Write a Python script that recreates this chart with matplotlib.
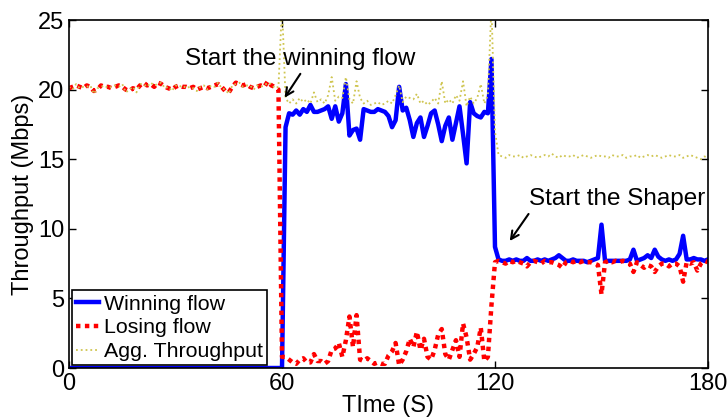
import matplotlib
matplotlib.use('Agg')
import matplotlib.pyplot as plt
import numpy as np

plt.rcParams['font.family'] = ['Liberation Sans', 'DejaVu Sans']

# time axis, one sample per second
time_s = np.arange(0, 181)

# winning flow (Mbps)
winning = [0.0] * 61 + [
    17.3, 18.3, 18.2, 18.5, 18.2, 18.6, 18.4, 18.9, 18.4, 18.4,
    18.5, 18.6, 18.8, 17.9, 18.8, 17.7, 18.3, 20.4, 16.7, 17.1,
    17.2, 16.4, 18.6, 18.5, 18.4, 18.4, 18.6, 18.5, 18.4, 18.1,
    17.3, 17.8, 20.2, 18.5, 18.7, 17.8, 16.6, 17.6, 18.0, 16.6,
    17.4, 18.3, 18.5, 17.5, 16.3, 17.4, 18.0, 16.4, 17.6, 18.8,
    16.8, 14.7, 19.1, 18.3, 18.1, 18.0, 18.4, 18.3, 22.2, 8.7,
    7.8, 7.7, 7.7, 7.8, 7.7, 7.8, 7.7, 7.7, 7.9, 7.7,
    7.7, 7.8, 7.7, 7.8, 7.7, 7.8, 7.9, 8.1, 7.9, 7.7,
    7.7, 7.8, 7.7, 7.7, 7.7, 7.6, 7.7, 7.8, 7.9, 10.3,
    7.7, 7.7, 7.7, 7.7, 7.7, 7.7, 7.7, 7.8, 8.5, 7.7,
    7.8, 7.9, 8.1, 7.9, 8.5, 8.0, 7.8, 7.7, 7.8, 7.7,
    7.8, 8.2, 9.5, 7.8, 7.8, 7.9, 7.8, 7.8, 7.7, 7.8,
]

# losing flow (Mbps)
losing = [
    20.1, 20.2, 20.3, 20.2, 20.1, 20.3, 20.2, 19.9, 20.0, 20.3,
    20.2, 20.2, 20.1, 20.2, 20.3, 20.2, 20.0, 19.9, 20.1, 20.0,
    20.3, 20.5, 20.3, 20.4, 20.2, 20.5, 20.4, 20.2, 20.1, 20.0,
    20.2, 20.3, 20.2, 20.2, 20.1, 20.2, 20.0, 20.1, 20.2, 20.1,
    20.2, 20.3, 20.4, 20.2, 19.9, 19.8, 20.2, 20.5, 20.4, 20.3,
    20.4, 20.2, 20.1, 20.2, 20.3, 20.2, 20.6, 20.3, 20.2, 20.0,
    0.8, 0.8, 0.6, 0.4, 0.3, 0.6, 0.7, 0.4, 0.4, 1.0,
    0.5, 0.5, 0.3, 0.5, 1.3, 1.4, 1.8, 0.8, 2.0, 3.7,
    1.5, 3.8, 0.6, 0.5, 0.7, 0.5, 0.3, 0.4, 0.3, 0.3,
    0.9, 1.2, 1.8, 0.2, 0.6, 1.2, 2.1, 1.5, 2.6, 1.3,
    2.1, 0.8, 0.6, 1.3, 2.4, 2.8, 1.0, 0.6, 1.3, 2.0,
    0.8, 3.2, 2.2, 0.6, 1.0, 1.5, 2.9, 0.5, 0.8, 4.5,
    7.6, 7.7, 7.6, 7.5, 7.7, 7.6, 7.7, 7.6, 7.5, 7.3,
    7.6, 7.7, 7.6, 7.5, 7.7, 7.6, 7.6, 7.5, 7.4, 7.2,
    7.6, 7.7, 7.6, 7.7, 7.6, 7.7, 7.6, 7.6, 7.5, 7.4,
    5.3, 7.6, 7.7, 7.6, 7.7, 7.6, 7.7, 7.6, 7.5, 6.9,
    7.6, 7.4, 7.2, 7.4, 7.3, 6.9, 7.3, 7.5, 7.5, 7.3,
    7.5, 7.5, 7.3, 6.2, 7.6, 7.5, 7.6, 7.0, 7.5, 7.7, 7.6,
]

# aggregate throughput (Mbps)
aggregate = [
    20.2, 20.0, 20.4, 20.1, 20.2, 20.2, 20.3, 19.7, 20.1, 20.2,
    20.3, 20.1, 20.2, 20.3, 20.2, 20.4, 19.8, 20.0, 20.2, 19.8,
    20.4, 20.4, 20.2, 20.5, 20.3, 20.4, 20.5, 20.1, 20.2, 19.9,
    20.3, 20.2, 20.3, 20.1, 20.2, 20.1, 19.9, 20.2, 20.3, 20.0,
    20.3, 20.2, 20.5, 20.1, 20.0, 19.7, 20.3, 20.4, 20.5, 20.2,
    20.3, 20.3, 20.0, 20.3, 20.2, 20.3, 20.5, 20.4, 20.1, 20.2,
    26.0, 19.4, 19.0, 19.3, 19.0, 19.4, 19.1, 19.3, 19.0, 19.8,
    19.1, 19.3, 19.0, 19.6, 20.9, 19.2, 19.5, 19.4, 20.9, 19.3,
    19.0, 20.6, 19.4, 19.0, 19.2, 18.9, 19.0, 19.1, 18.9, 19.0,
    19.2, 19.0, 19.6, 20.3, 19.1, 19.5, 19.4, 19.3, 19.7, 19.0,
    19.2, 18.9, 19.1, 19.4, 19.0, 20.6, 19.0, 19.3, 19.0, 19.6,
    19.2, 20.6, 18.8, 19.5, 19.0, 19.4, 20.4, 19.0, 19.6, 26.0,
    17.0, 15.3, 15.2, 15.1, 15.3, 15.2, 15.2, 15.3, 15.1, 15.2,
    15.3, 15.2, 15.1, 15.2, 15.3, 15.2, 15.4, 15.2, 15.1, 15.3,
    15.2, 15.2, 15.3, 15.1, 15.2, 15.3, 15.2, 15.1, 15.2, 15.3,
    15.2, 15.2, 15.1, 15.3, 15.2, 15.2, 15.3, 15.1, 15.2, 15.2,
    15.3, 15.1, 15.2, 15.3, 15.2, 15.3, 15.2, 15.1, 15.2, 15.3,
    15.2, 15.2, 15.3, 15.1, 15.2, 15.3, 15.2, 15.1, 15.0, 15.2, 15.1,
]

xticks = [0, 60, 120, 180]
yticks = [0, 5, 10, 15, 20, 25]

fig = plt.figure(figsize=(7.28, 4.18), dpi=100)
ax = fig.add_axes([0.0948, 0.1196, 0.8777, 0.8325])

ax.plot(time_s, winning, color='blue', lw=3.2, label='Winning flow')
red, = ax.plot(time_s, losing, color='red', lw=3.2, label='Losing flow')
red.set_dashes([1, 1])
red.set_dash_capstyle('butt')
ax.plot(time_s, aggregate, color='#cfc550', lw=1.3, ls=':', label='Agg. Throughput')

ax.set_xlim(0, 180)
ax.set_ylim(0, 25)
ax.set_xticks(xticks)
ax.set_yticks(yticks)
ax.tick_params(direction='in', length=5, width=1, top=True, right=True, labelsize=17)
for sp in ax.spines.values():
    sp.set_linewidth(1.2)

ax.set_xlabel('TIme (S)', fontsize=17, labelpad=0)
ax.set_ylabel('Throughput (Mbps)', fontsize=17, labelpad=3)

ax.annotate('', xy=(60.3, 19.25), xytext=(65.6, 21.3),
            arrowprops=dict(arrowstyle='->', color='black', lw=1.5, mutation_scale=14))
ax.text(32.7, 21.77, 'Start the winning flow', fontsize=17.5, va='baseline', ha='left')
ax.annotate('', xy=(123.7, 8.96), xytext=(129.9, 11.23),
            arrowprops=dict(arrowstyle='->', color='black', lw=1.5, mutation_scale=14))
ax.text(129.6, 11.7, 'Start the Shaper', fontsize=17.5, va='baseline', ha='left')

leg = ax.legend(loc='lower left', fontsize=15.4, handlelength=1.1, handletextpad=0.2,
                borderpad=0.2, labelspacing=0.22, borderaxespad=0.12,
                fancybox=False, framealpha=1, edgecolor='black')
leg.get_frame().set_linewidth(1.2)

fig.savefig('out.png', dpi=100)
